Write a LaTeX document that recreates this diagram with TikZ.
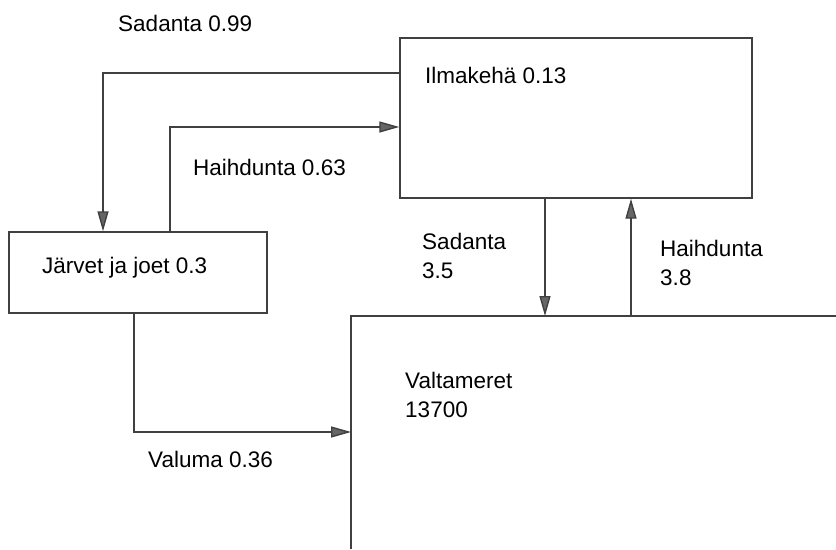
\documentclass[tikz,border=0pt]{standalone}
\usepackage{fontspec}
\setmainfont{Liberation Sans}
\usepackage{tikz}
\usetikzlibrary{arrows.meta,positioning}

\begin{document}
\begin{tikzpicture}[
    x=0.03cm, y=-0.03cm,
    reservoir/.style={rectangle, draw=black!75, line width=1.2pt, inner sep=0pt},
    flow/.style={draw=black!75, line width=1.2pt,
                 -{Triangle[length=0.6cm, width=0.33cm, fill=black!60]}},
    border/.style={draw=black!75, line width=1.2pt},
    label/.style={anchor=base west, inner sep=0pt, align=left,
                  font=\fontsize{19.2}{24.5}\selectfont}
]
    \useasboundingbox (0,0) rectangle (836,549);

    % Storages
    \node[reservoir, minimum width=10.56cm, minimum height=4.8cm] (ilma) at (576,118) {};
    \node[reservoir, minimum width=7.74cm, minimum height=2.43cm] (jarvet) at (138,272.5) {};
    \coordinate (meri) at (351,316);
    \draw[border] (351,549) -- (meri) -- (836,316);

    % Storage texts (base = last line)
    \node[label] (ilmatxt) at (425,83) {Ilmakehä 0.13};
    \node[label] (jarvettxt) at (42,273) {Järvet ja joet 0.3};
    \node[label] (meritxt) at (405,417) {Valtameret\\13700};

    % Fluxes
    \draw[flow] (ilma.west |- 0,73) -| (jarvet.north -| 103,0);
    \draw[flow] (jarvet.north -| 170,0) |- (ilma.west |- 0,127);
    \draw[flow] (ilma.south -| 545,0) -- (meri -| 545,0);
    \draw[flow] (meri -| 631,0) -- (ilma.south -| 631,0);
    \draw[flow] (jarvet.south -| 134,0) |- (meri |- 0,432);

    % Flux texts
    \node[label] (sad1) at (118,31) {Sadanta 0.99};
    \node[label] (hai1) at (193,175) {Haihdunta 0.63};
    \node[label] (sad2) at (422,278) {Sadanta\\3.5};
    \node[label] (hai2) at (660,285) {Haihdunta\\3.8};
    \node[label] (valuma) at (148,467) {Valuma 0.36};
\end{tikzpicture}
\end{document}
